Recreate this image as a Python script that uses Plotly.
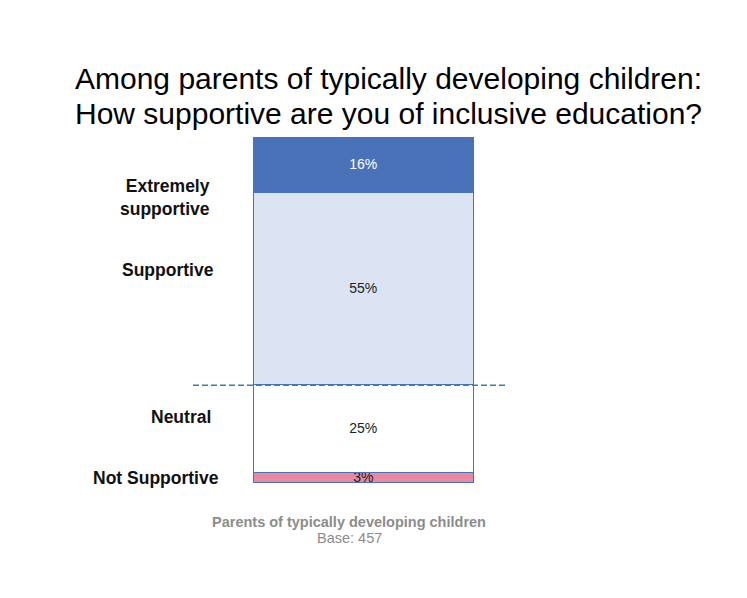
import plotly.graph_objects as go

categories = ["Not Supportive", "Neutral", "Supportive", "Extremely supportive"]
label_text = ["Not Supportive", "Neutral", "Supportive", "Extremely<br>supportive"]
values = [3, 25, 55, 16]
colors = ["#e8899f", "#ffffff", "#dce3f3", "#4a72b9"]
text_colors = ["#222222", "#222222", "#222222", "#ffffff"]
label_y = [1.4, 18.9, 60.9, 81.8]
label_x = [218, 210, 213, 209]
group = "Parents of typically developing children"
base_text = "Base: 457"
title_lines = ["Among parents of typically developing children:",
               "How supportive are you of inclusive education?"]

OFF = 8  # page body offset
fig = go.Figure()
for cat, v, c, tc in zip(categories, values, colors, text_colors):
    fig.add_trace(go.Bar(
        x=[364 - OFF], y=[v], width=[220], name=cat,
        marker=dict(color=c, line=dict(color="#4472c4", width=1.5)),
        text=[f"{v}%"], textposition="inside", insidetextanchor="middle",
        textfont=dict(color=tc, size=14, family="Liberation Sans"),
        constraintext="none", showlegend=False, hoverinfo="skip",
    ))

fig.add_shape(type="line", xref="x", yref="y", x0=193 - OFF, x1=505 - OFF,
              y0=values[0] + values[1], y1=values[0] + values[1],
              line=dict(color="#3a7fa3", width=1.5, dash="6px,3px"))

for lt, ly, lx in zip(label_text, label_y, label_x):
    fig.add_annotation(x=lx - OFF + 3, y=ly, xref="x", yref="y", text=f"<b>{lt}</b>",
                       showarrow=False, xanchor="right", yanchor="middle",
                       align="right",
                       font=dict(size=17.5, color="#111111", family="Liberation Sans"))

fig.add_annotation(x=(349 - OFF) / 747, y=(475 - 514) / 346, xref="paper", yref="paper",
                   text=f"<b>{group}</b>", showarrow=False,
                   xanchor="center", yanchor="middle",
                   font=dict(size=14.5, color="#8c8c8c", family="Liberation Sans"))
fig.add_annotation(x=(349 - OFF) / 747, y=(475 - 530) / 346, xref="paper", yref="paper",
                   text=base_text, showarrow=False,
                   xanchor="center", yanchor="middle",
                   font=dict(size=14.5, color="#8c8c8c", family="Liberation Sans"))

for i, (tl, ty) in enumerate(zip(title_lines, [78, 113])):
    fig.add_annotation(x=(75 - OFF - 2) / 747, y=1 + (137 - ty) / 346, xref="paper", yref="paper",
                       text=tl, showarrow=False, xanchor="left", yanchor="middle",
                       font=dict(size=30, color="#000000", family="Liberation Sans"))

fig.update_layout(
    width=747, height=598, barmode="stack", bargap=0,
    margin=dict(l=0, r=0, t=129, b=123),
    paper_bgcolor="white", plot_bgcolor="white",
    xaxis=dict(range=[0, 747], visible=False, fixedrange=True),
    yaxis=dict(range=[0, 99], visible=False, fixedrange=True),
)

fig.write_html("out.html")
